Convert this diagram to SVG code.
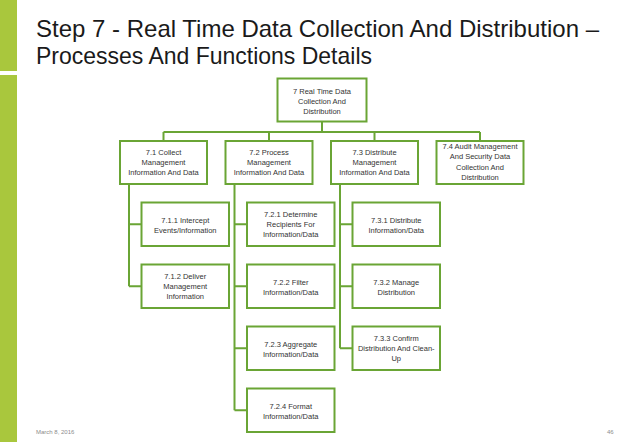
<svg xmlns="http://www.w3.org/2000/svg" width="638" height="442" viewBox="0 0 638 442">
<style>
.bg{fill:#ffffff}
.bar{fill:#a9c73d}
.box{fill:#ffffff;stroke:#6aa535;stroke-width:2}
.con{fill:none;stroke:#6aa535;stroke-width:2}
.t{font-family:"Liberation Sans",Arial,sans-serif;font-size:7.5px;fill:#333333;text-anchor:middle}
.title{font-family:"Liberation Sans",Arial,sans-serif;font-size:24px;fill:#1a1a1a}
.foot{font-family:"Liberation Sans",Arial,sans-serif;font-size:6px;fill:#8c8c8c}
</style>
<rect class="bg" x="0" y="0" width="638" height="442"/>
<rect class="bar" x="0" y="0" width="17" height="71"/>
<rect class="bar" x="0" y="75" width="17" height="367"/>
<text class="title" x="36" y="37" textLength="563" lengthAdjust="spacingAndGlyphs">Step 7 - Real Time Data Collection And Distribution –</text>
<text class="title" x="36" y="64" textLength="336" lengthAdjust="spacingAndGlyphs">Processes And Functions Details</text>
<text class="foot" x="36" y="434">March 8, 2016</text>
<text class="foot" x="607" y="434">46</text>
<g id="connectors">
<path class="con" d="M322 121.5V132M163.5 132H480M163.5 132V141M269 132V141M374.5 132V141M480 132V141"/>
<path class="con" d="M129 184V286.25M129 224.25H141.5M129 286.25H141.5"/>
<path class="con" d="M234.5 184V410.25M234.5 224.25H247M234.5 286.25H247M234.5 348.25H247M234.5 410.25H247"/>
<path class="con" d="M340 184V348.25M340 224.25H352.5M340 286.25H352.5M340 348.25H352.5"/>
</g>
<g id="n7">
<rect class="box" x="277.5" y="78.5" width="89" height="43"/>
<text class="t" x="322" y="93.5">7 Real Time Data</text>
<text class="t" x="322" y="103.5">Collection And</text>
<text class="t" x="322" y="113.5">Distribution</text>
</g>
<g id="n7_1">
<rect class="box" x="120" y="141" width="87" height="43"/>
<text class="t" x="163.5" y="155">7.1 Collect</text>
<text class="t" x="163.5" y="165">Management</text>
<text class="t" x="163.5" y="175">Information And Data</text>
</g>
<g id="n7_2">
<rect class="box" x="225.5" y="141" width="87" height="43"/>
<text class="t" x="269" y="155">7.2 Process</text>
<text class="t" x="269" y="165">Management</text>
<text class="t" x="269" y="175">Information And Data</text>
</g>
<g id="n7_3">
<rect class="box" x="331" y="141" width="87" height="43"/>
<text class="t" x="374.5" y="155">7.3 Distribute</text>
<text class="t" x="374.5" y="165">Management</text>
<text class="t" x="374.5" y="175">Information And Data</text>
</g>
<g id="n7_4">
<rect class="box" x="436.5" y="141" width="87" height="43"/>
<text class="t" x="480" y="149">7.4 Audit Management</text>
<text class="t" x="480" y="159">And Security Data</text>
<text class="t" x="480" y="169.5">Collection And</text>
<text class="t" x="480" y="180">Distribution</text>
</g>
<g id="n7_1_1">
<rect class="box" x="141.5" y="202.5" width="87.5" height="43.5"/>
<text class="t" x="185.25" y="222.5">7.1.1 Intercept</text>
<text class="t" x="185.25" y="232.5">Events/Information</text>
</g>
<g id="n7_1_2">
<rect class="box" x="141.5" y="264.5" width="87.5" height="43.5"/>
<text class="t" x="185.25" y="279">7.1.2 Deliver</text>
<text class="t" x="185.25" y="289">Management</text>
<text class="t" x="185.25" y="299">Information</text>
</g>
<g id="n7_2_1">
<rect class="box" x="247" y="202.5" width="87.5" height="43.5"/>
<text class="t" x="290.75" y="217">7.2.1 Determine</text>
<text class="t" x="290.75" y="227">Recipients For</text>
<text class="t" x="290.75" y="237">Information/Data</text>
</g>
<g id="n7_2_2">
<rect class="box" x="247" y="264.5" width="87.5" height="43.5"/>
<text class="t" x="290.75" y="284.5">7.2.2 Filter</text>
<text class="t" x="290.75" y="294.5">Information/Data</text>
</g>
<g id="n7_2_3">
<rect class="box" x="247" y="326.5" width="87.5" height="43.5"/>
<text class="t" x="290.75" y="346.5">7.2.3 Aggregate</text>
<text class="t" x="290.75" y="356.5">Information/Data</text>
</g>
<g id="n7_2_4">
<rect class="box" x="247" y="388.5" width="87.5" height="43.5"/>
<text class="t" x="290.75" y="408.5">7.2.4 Format</text>
<text class="t" x="290.75" y="418.5">Information/Data</text>
</g>
<g id="n7_3_1">
<rect class="box" x="352.5" y="202.5" width="87.5" height="43.5"/>
<text class="t" x="396.25" y="222.5">7.3.1 Distribute</text>
<text class="t" x="396.25" y="232.5">Information/Data</text>
</g>
<g id="n7_3_2">
<rect class="box" x="352.5" y="264.5" width="87.5" height="43.5"/>
<text class="t" x="396.25" y="284.5">7.3.2 Manage</text>
<text class="t" x="396.25" y="294.5">Distribution</text>
</g>
<g id="n7_3_3">
<rect class="box" x="352.5" y="326.5" width="87.5" height="43.5"/>
<text class="t" x="396.25" y="341">7.3.3 Confirm</text>
<text class="t" x="396.25" y="351">Distribution And Clean-</text>
<text class="t" x="396.25" y="361">Up</text>
</g>
</svg>
